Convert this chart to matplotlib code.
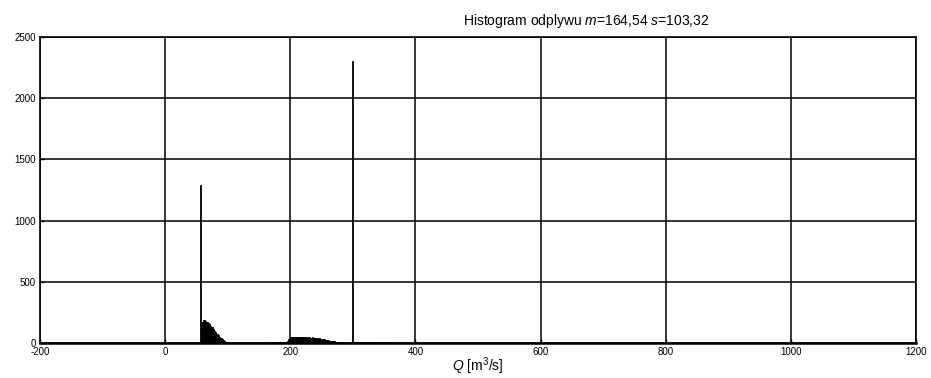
import matplotlib
matplotlib.use("Agg")
from matplotlib import pyplot as plt
import numpy as np

plt.rcParams['font.family'] = ['Liberation Sans', 'DejaVu Sans']
plt.rcParams['mathtext.fontset'] = 'custom'
plt.rcParams['mathtext.rm'] = 'Liberation Sans'
plt.rcParams['mathtext.it'] = 'Liberation Sans:italic'
plt.rcParams['axes.unicode_minus'] = False

# histogram counts, bin width 2 m3/s, first bin starts at 56
bin_start = 56
bin_width = 2
counts = [
    # 56-100
    1290, 175, 190, 185, 180, 172, 165, 155, 140, 128, 115, 100, 88, 75, 62,
    50, 40, 30, 22, 16, 12, 9,
    # 100-194
    6, 5, 4, 5, 3, 4, 0, 3, 2, 0, 4, 3, 0, 2, 3, 0, 0, 2, 0, 0,
    3, 4, 0, 0, 2, 3, 4, 0, 3, 5, 4, 3, 0, 4, 5, 6, 5, 4, 6, 5,
    7, 6, 8, 7, 9, 10, 12,
    # 194-290
    20, 30, 40, 45, 48, 50, 46, 52, 49, 47, 50, 53, 48, 45, 51, 47, 44, 49,
    46, 42, 45, 40, 43, 38, 41, 36, 38, 34, 33, 30, 31, 27, 25, 24, 20, 19,
    17, 15, 13, 12, 10, 9, 8, 7, 6, 5, 5, 4,
    # 290-300
    4, 3, 4, 3, 2300,
    # 300-520
    8, 7, 6, 8, 5, 7, 6, 5, 7, 6, 4, 6, 5, 7, 4, 5, 6, 4, 5, 3,
    6, 5, 4, 6, 3, 5, 4, 5, 3, 4, 6, 4, 3, 5, 4, 3, 5, 4, 3, 4,
    3, 4, 5, 3, 2, 4, 3, 0, 4, 3, 2, 3, 0, 3, 2, 0, 3, 2, 0, 2,
    3, 0, 2, 0, 0, 2, 0, 3, 0, 0, 2, 0, 0, 0, 2, 0, 0, 0, 0, 2,
]
edges = bin_start + bin_width * np.arange(len(counts))

x_ticks = [-200, 0, 200, 400, 600, 800, 1000, 1200]
y_ticks = [0, 500, 1000, 1500, 2000, 2500]

fig = plt.figure(figsize=(9.31, 3.78), dpi=100)
ax = fig.add_axes([0.043, 0.0926, 0.941, 0.8095])

ax.bar(edges, counts, width=bin_width, align='edge', color='black',
       edgecolor='black', linewidth=0.6, zorder=3)

ax.set_xlim(-200, 1200)
ax.set_ylim(0, 2500)
ax.set_xticks(x_ticks)
ax.set_yticks(y_ticks)
ax.grid(True, color='black', linewidth=1.1, zorder=0)
ax.set_axisbelow(True)
ax.tick_params(direction='in', length=3, labelsize=7, pad=3, width=1)
for s in ax.spines.values():
    s.set_linewidth(1.2)
ax.spines['bottom'].set_linewidth(1.8)

ax.set_xlabel('$Q$ [m$^3$/s]', fontsize=10, labelpad=-1)
fig.text(0.63, 0.945, 'Histogram odplywu $m$=164,54 $s$=103,32',
         ha='center', va='center', fontsize=10)

fig.savefig('out.png', dpi=100)
